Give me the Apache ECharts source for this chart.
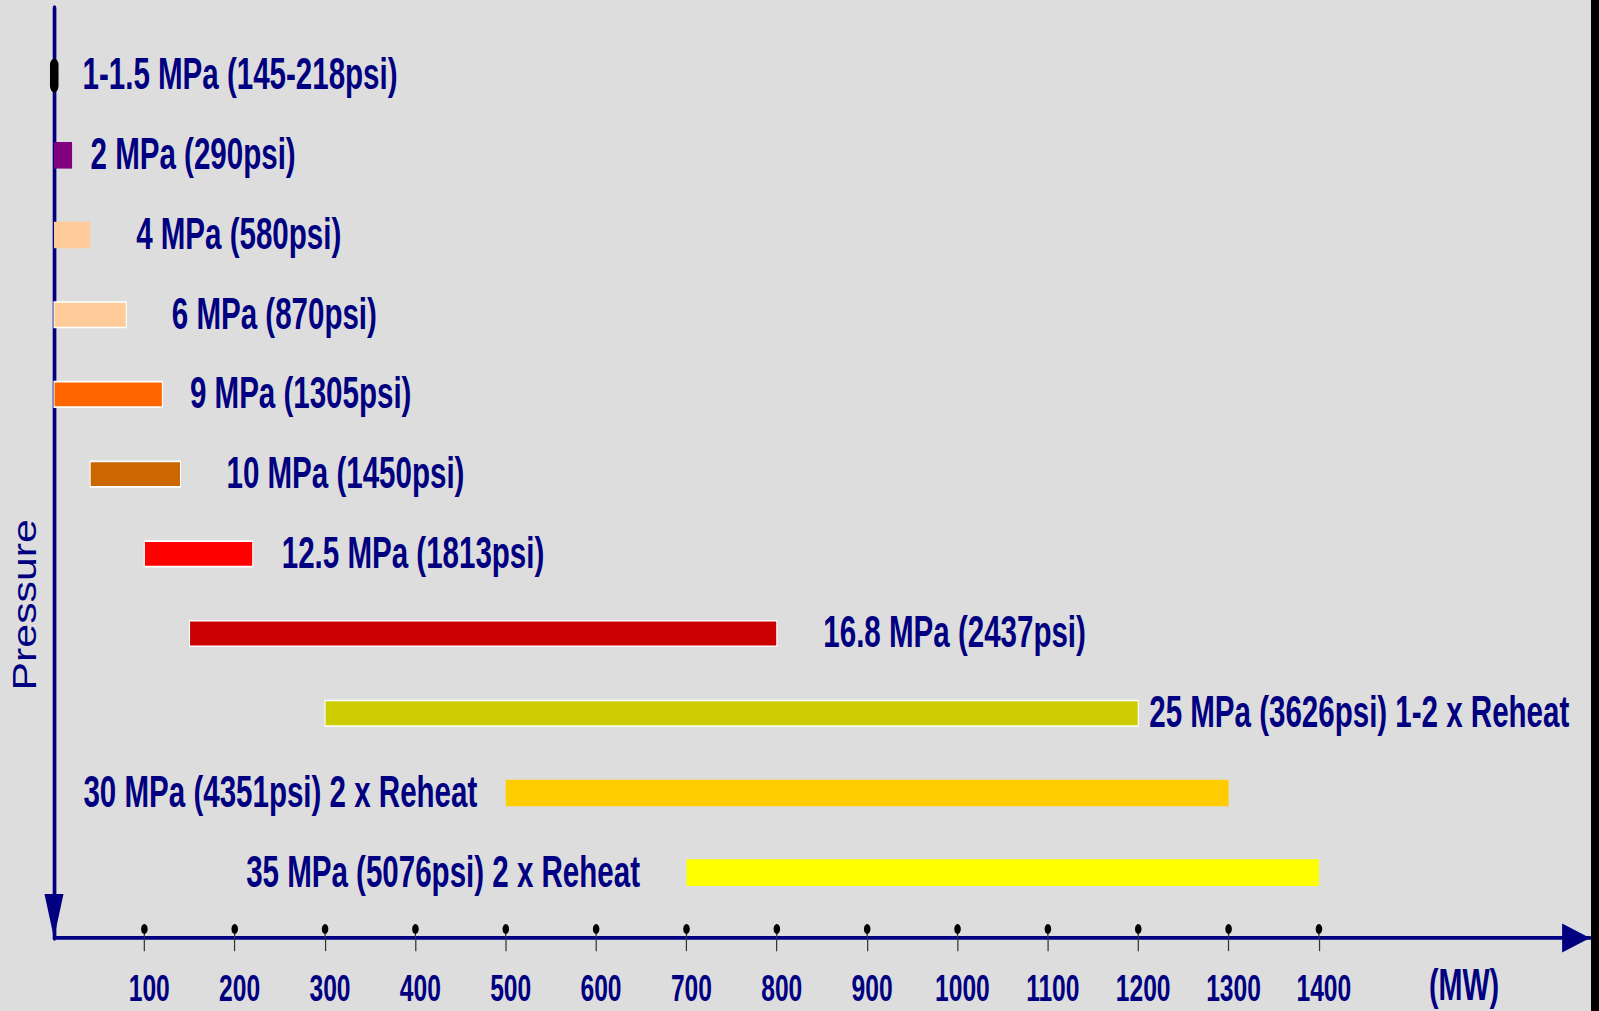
<!DOCTYPE html>
<html>
<head>
<meta charset="utf-8">
<script src="https://cdn.jsdelivr.net/npm/echarts@6/dist/echarts.min.js"></script>
<style>
html,body{margin:0;padding:0;background:#000;overflow:hidden;width:1599px;height:1011px}
#chart{position:absolute;left:0;top:0;width:1940px;height:809px;background:#dddddd;transform-origin:0 0;transform:scale(0.82010,1.24969)}
</style>
</head>
<body>
<div id="chart"></div>
<script>
// ---- data (top row first) ----
const categories = [
  '1-1.5 MPa (145-218psi)',
  '2 MPa (290psi)',
  '4 MPa (580psi)',
  '6 MPa (870psi)',
  '9 MPa (1305psi)',
  '10 MPa (1450psi)',
  '12.5 MPa (1813psi)',
  '16.8 MPa (2437psi)',
  '25 MPa (3626psi) 1-2 x Reheat',
  '30 MPa (4351psi) 2 x Reheat',
  '35 MPa (5076psi) 2 x Reheat'
];
const rangeStartMW = [0, 0, 0, 0, 0, 40, 100, 150, 300, 500, 700];
const rangeEndMW   = [5, 20, 40, 80, 120, 140, 220, 800, 1200, 1300, 1400];
const tickValues = [100, 200, 300, 400, 500, 600, 700, 800, 900, 1000, 1100, 1200, 1300, 1400];
const tickLabels = ['100', '200', '300', '400', '500', '600', '700', '800', '900', '1000', '1100', '1200', '1300', '1400'];
const xUnit = '(MW)';
const yTitle = 'Pressure';

// ---- styles ----
const SX = 0.82010;   // horizontal squeeze applied to the whole drawing (CSS)
const barColors = ['#000000', '#800080', '#FFCC99', '#FFCC99', '#FF6600', '#CC6600', '#FF0000', '#CC0000', '#CCCC00', '#FFCC00', '#FFFF00'];
const barBorder = [false, false, false, true, true, true, true, true, true, false, false];
const labelSide = ['right', 'right', 'right', 'right', 'right', 'right', 'right', 'right', 'right', 'left', 'left'];
const labelGapPx = [24, 18.5, 46, 45.5, 27.5, 46, 29, 46.5, 11, 28.5, 46.5];

const NAVY = '#000080';
const FONT = "'Liberation Sans', Arial, sans-serif";

const chart = echarts.init(document.getElementById('chart'), null, { renderer: 'svg' });

const rowData = categories.map((c, i) => [rangeStartMW[i], rangeEndMW[i], i]);

const option = {
  backgroundColor: '#dddddd',
  animation: false,
  grid: { left: 54 / SX, right: 1 / SX, top: 6.4, bottom: 58.4, containLabel: false },
  xAxis: {
    type: 'value', min: 0, max: 1700, interval: 100,
    axisLine: {
      show: true, onZero: false,
      lineStyle: { color: NAVY, width: 3 },
      symbol: ['none', 'triangle'], symbolSize: [23.2, 34], symbolOffset: [0, -17]
    },
    axisTick: { show: true, customValues: tickValues, length: 10.5, lineStyle: { color: '#333', width: 1.5 } },
    axisLabel: {
      show: true, customValues: tickValues,
      formatter: v => { const k = tickValues.indexOf(v); return k >= 0 ? tickLabels[k] : ''; },
      color: NAVY, fontFamily: FONT, fontWeight: 'bold', fontSize: 30, margin: 25, padding: [0, 0, 0, 12]
    },
    splitLine: { show: false },
    name: xUnit, nameLocation: 'end', nameGap: -126 / SX,
    nameTextStyle: { color: NAVY, fontFamily: FONT, fontWeight: 'bold', fontSize: 35, align: 'center', verticalAlign: 'top', padding: [20.5, 0, 0, 0] }
  },
  yAxis: {
    type: 'value', inverse: true, min: -0.848, max: 10.82,
    axisLine: {
      show: true, onZero: false,
      lineStyle: { color: NAVY, width: 4.5, cap: 'round' },
      symbol: ['triangle', 'none'], symbolSize: [23.2, 35.2], symbolOffset: [17.6, 0]
    },
    axisTick: { show: false },
    axisLabel: { show: false },
    splitLine: { show: false }
  },
  graphic: [{
    type: 'text', x: 25 / SX, y: 484, rotation: Math.PI / 2, scaleX: 0.867, silent: true,
    style: {
      text: yTitle, fill: NAVY, font: "39.5px 'Liberation Sans', Arial, sans-serif",
      align: 'center', verticalAlign: 'middle', textAlign: 'center', textVerticalAlign: 'middle'
    }
  }],
  series: [
    {
      type: 'custom', name: 'ranges', coordinateSystem: 'cartesian2d',
      encode: { x: [0, 1], y: 2 }, clip: false, silent: true,
      data: rowData,
      renderItem: (params, api) => {
        const i = api.value(2);
        const p0 = api.coord([api.value(0), i]);
        const p1 = api.coord([api.value(1), i]);
        const special = i === 0;
        const h = special ? 27 : (barBorder[i] ? 20.4 : 21.3);
        const x0 = special ? p0[0] - 4.9 : p0[0];
        const rect = {
          type: 'rect',
          shape: { x: x0, y: p0[1] - h / 2, width: p1[0] - x0, height: h, r: special ? 5.4 : 0 },
          style: { fill: barColors[i], stroke: barBorder[i] ? '#ffffff' : null, lineWidth: barBorder[i] ? 1.3 : 0 }
        };
        const right = labelSide[i] === 'right';
        const gap = labelGapPx[i] / SX;
        const tx = right ? p1[0] + gap : p0[0] - gap;
        const text = {
          type: 'text', x: tx, y: p0[1] - 1.2,
          style: {
            text: categories[i], fill: NAVY, font: "bold 36px " + FONT,
            align: right ? 'left' : 'right', verticalAlign: 'middle',
            textAlign: right ? 'left' : 'right', textVerticalAlign: 'middle'
          }
        };
        return { type: 'group', children: [rect, text] };
      }
    },
    {
      type: 'custom', name: 'tickDots', coordinateSystem: 'cartesian2d',
      encode: { x: 0 }, clip: false, silent: true, z: 5,
      data: tickValues.map(v => [v]),
      renderItem: (params, api) => {
        const x = api.coord([api.value(0), 0])[0];
        const yb = params.coordSys.y + params.coordSys.height;
        return {
          type: 'group', children: [
            { type: 'line', shape: { x1: x, y1: yb - 7.2, x2: x, y2: yb }, style: { stroke: '#333', lineWidth: 1.5 } },
            { type: 'circle', shape: { cx: x, cy: yb - 7.2, r: 4 }, style: { fill: '#000' } }
          ]
        };
      }
    }
  ]
};
chart.setOption(option);
</script>
</body>
</html>
